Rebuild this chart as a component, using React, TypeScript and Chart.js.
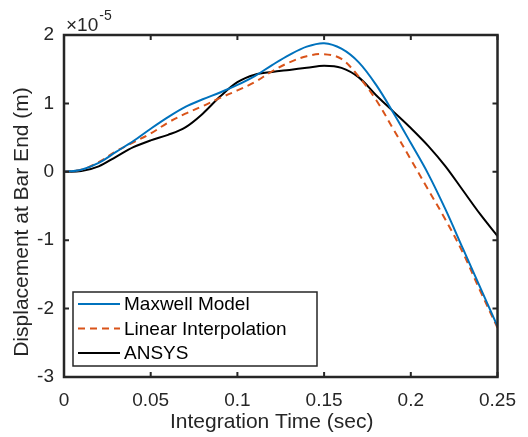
import React, { useEffect, useRef } from "react";
import { Chart, registerables } from "chart.js";

Chart.register(...registerables);

const times = [0, 0.01, 0.02, 0.03, 0.04, 0.05, 0.06, 0.07, 0.08, 0.09, 0.1, 0.11, 0.12, 0.13, 0.14, 0.15, 0.16, 0.17, 0.18, 0.19, 0.2, 0.21, 0.22, 0.23, 0.24, 0.25];
const maxwell = [0, 0.03, 0.13, 0.29, 0.45, 0.63, 0.8, 0.95, 1.06, 1.16, 1.27, 1.4, 1.56, 1.71, 1.83, 1.88, 1.8, 1.6, 1.27, 0.86, 0.42, -0.03, -0.55, -1.12, -1.69, -2.26];
const linearInterp = [0, 0.03, 0.14, 0.3, 0.43, 0.56, 0.72, 0.85, 0.96, 1.08, 1.19, 1.31, 1.47, 1.6, 1.69, 1.72, 1.65, 1.39, 1.05, 0.62, 0.18, -0.26, -0.7, -1.18, -1.74, -2.28];
const ansys = [0, 0.01, 0.08, 0.22, 0.36, 0.46, 0.54, 0.65, 0.85, 1.1, 1.31, 1.42, 1.46, 1.49, 1.52, 1.55, 1.52, 1.38, 1.12, 0.88, 0.64, 0.38, 0.08, -0.27, -0.62, -0.94];

const seriesNames = ["Maxwell Model", "Linear Interpolation", "ANSYS"];
const seriesColors = ["#0072BD", "#D95319", "#000000"];
const xTickValues = [0, 0.05, 0.1, 0.15, 0.2, 0.25];
const yTickValues = [-3, -2, -1, 0, 1, 2];
const xTitle = "Integration Time (sec)";
const yTitle = "Displacement at Bar End (m)";
const exponentBase = "\u00D710";
const exponentPower = "-5";

const FONT = "'Liberation Sans', Arial, Helvetica, sans-serif";
const AXIS = "#262626";

function toPoints(ys: number[]) {
  return ys.map((y, i) => ({ x: times[i], y }));
}

const framePlugin = {
  id: "matlabFrame",
  afterDatasetsDraw(chart: any) {
    const { ctx, chartArea, scales } = chart;
    const { left, right, top, bottom } = chartArea;
    const xs = scales.x;
    const ys = scales.y;
    ctx.save();
    ctx.strokeStyle = AXIS;
    ctx.lineWidth = 2;
    const tl = 5;
    xs.ticks.forEach((t: any) => {
      const px = xs.getPixelForValue(t.value);
      ctx.beginPath();
      ctx.moveTo(px, bottom);
      ctx.lineTo(px, bottom - tl);
      ctx.moveTo(px, top);
      ctx.lineTo(px, top + tl);
      ctx.stroke();
    });
    ys.ticks.forEach((t: any) => {
      const py = ys.getPixelForValue(t.value);
      ctx.beginPath();
      ctx.moveTo(left, py);
      ctx.lineTo(left + tl, py);
      ctx.moveTo(right, py);
      ctx.lineTo(right - tl, py);
      ctx.stroke();
    });
    ctx.lineWidth = 2.5;
    ctx.strokeRect(left, top, right - left, bottom - top);

    // legend
    const lx = left + 9;
    const lw = 244;
    const lh = 74;
    const ly = bottom - 11 - lh;
    ctx.fillStyle = "#ffffff";
    ctx.fillRect(lx, ly, lw, lh);
    ctx.lineWidth = 1.5;
    ctx.strokeStyle = AXIS;
    ctx.strokeRect(lx, ly, lw, lh);
    ctx.font = `19px ${FONT}`;
    ctx.textBaseline = "middle";
    ctx.textAlign = "left";
    seriesNames.forEach((name, i) => {
      const ry = ly + 12 + i * 24.5;
      ctx.beginPath();
      ctx.strokeStyle = seriesColors[i];
      ctx.lineWidth = 2;
      ctx.setLineDash(i === 1 ? [7, 5] : []);
      ctx.moveTo(lx + 5, ry);
      ctx.lineTo(lx + 47, ry);
      ctx.stroke();
      ctx.setLineDash([]);
      ctx.fillStyle = "#000000";
      ctx.fillText(name, lx + 51, ry + 1);
    });

    // exponent label
    ctx.fillStyle = AXIS;
    ctx.textBaseline = "alphabetic";
    ctx.font = `19px ${FONT}`;
    ctx.fillText(exponentBase, left + 2, top - 4);
    const w = ctx.measureText(exponentBase).width;
    ctx.font = `14px ${FONT}`;
    ctx.fillText(exponentPower, left + 2 + w + 1, top - 15);

    // x title
    ctx.font = `21px ${FONT}`;
    ctx.textAlign = "center";
    ctx.textBaseline = "middle";
    ctx.fillText(xTitle, (left + right) / 2 - 9, bottom + 45);

    // y title
    ctx.save();
    ctx.translate(22, (top + bottom) / 2 + 16);
    ctx.rotate(-Math.PI / 2);
    ctx.fillText(yTitle, 0, 0);
    ctx.restore();

    ctx.restore();
  },
};

export default function App() {
  const ref = useRef<HTMLCanvasElement | null>(null);
  useEffect(() => {
    if (!ref.current) return;
    const common = { borderWidth: 2, pointRadius: 0, tension: 0.35 };
    const chart = new Chart(ref.current, {
      type: "line",
      data: {
        datasets: [
          { label: seriesNames[0], data: toPoints(maxwell), borderColor: seriesColors[0], ...common },
          { label: seriesNames[1], data: toPoints(linearInterp), borderColor: seriesColors[1], borderDash: [7, 5], ...common },
          { label: seriesNames[2], data: toPoints(ansys), borderColor: seriesColors[2], ...common },
        ],
      },
      options: {
        responsive: false,
        animation: false,
        layout: { padding: { left: 0, top: 35, right: 18, bottom: 0 } },
        plugins: { legend: { display: false }, tooltip: { enabled: false } },
        scales: {
          x: {
            type: "linear",
            min: 0,
            max: 0.25,
            grid: { display: false, drawTicks: false },
            border: { display: false },
            afterBuildTicks: (s: any) => {
              s.ticks = xTickValues.map((v) => ({ value: v }));
            },
            afterFit: (s: any) => {
              s.height = 60;
            },
            ticks: {
              padding: 12,
              color: AXIS,
              font: { family: FONT, size: 19 },
              maxRotation: 0,
              callback: (v: any) => String(Number(Number(v).toFixed(2))),
            },
          },
          y: {
            type: "linear",
            min: -3,
            max: 2,
            grid: { display: false, drawTicks: false },
            border: { display: false },
            afterBuildTicks: (s: any) => {
              s.ticks = yTickValues.map((v) => ({ value: v }));
            },
            afterFit: (s: any) => {
              s.width = 64;
            },
            ticks: {
              padding: 10,
              color: AXIS,
              font: { family: FONT, size: 19 },
              callback: (v: any) => String(v),
            },
          },
        },
      },
      plugins: [framePlugin],
    });
    return () => chart.destroy();
  }, []);
  return (
    <div style={{ position: "fixed", left: 0, top: 0, width: 528, height: 437, background: "#fff" }}>
      <canvas ref={ref} width={528} height={437} style={{ display: "block" }} />
    </div>
  );
}
